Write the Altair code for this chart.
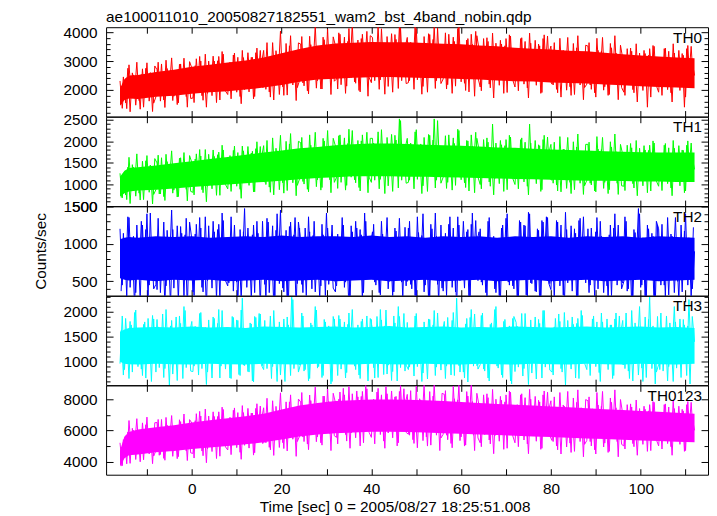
import altair as alt
import pandas as pd

FONT = "Liberation Sans"
FS = 15.4
TITLE = "ae100011010_20050827182551_wam2_bst_4band_nobin.qdp"
X_TITLE = "Time [sec] 0 = 2005/08/27 18:25:51.008"
Y_TITLE = "Counts/sec"
X_DOMAIN = [-19.1, 115.0]
X_TICKS = [-10, 0, 10, 20, 30, 40, 50, 60, 70, 80, 90, 100, 110]
X_LABELS = [0, 20, 40, 60, 80, 100]

# time grid of the dense core band (s)
T_CORE = [-16, -15, -14, -12, -8, -4, 0, 4, 8, 12, 16, 20, 24, 28, 32, 36, 40, 44,
          48, 52, 56, 60, 64, 68, 72, 76, 80, 84, 88, 92, 96, 100, 104, 108, 112]
# time grids of the two interleaved spike traces: every 0.5 s
T_SPIKE = [k / 2 for k in range(-32, 225)]          # -16.0 ... 112.0
T_SPIKE2 = [k / 2 + 0.25 for k in range(-32, 224)]  # -15.75 ... 111.75

TH0_LO = [1450, 1650, 1700, 1680, 1760, 1800, 1870, 1920, 1950, 2010, 2080, 2170, 2280, 2360, 2390, 2420, 2440, 2450,
          2430, 2410, 2400, 2380, 2360, 2330, 2300, 2290, 2260, 2240, 2220, 2190, 2160, 2130, 2100, 2080, 2060]
TH0_HI = [2050, 2380, 2500, 2520, 2620, 2700, 2800, 2870, 2950, 3020, 3120, 3270, 3420, 3540, 3610, 3640, 3660, 3650,
          3650, 3630, 3600, 3580, 3540, 3510, 3460, 3430, 3400, 3360, 3340, 3290, 3240, 3190, 3160, 3120, 3100]
TH0_SPK = [2310, 1360, 2300, 1350, 2870, 1820, 2520, 1470, 2310, 1330, 2730, 1750, 2940, 1610, 2380, 1540,
           1760, 2960, 1610, 2510, 1390, 2740, 2060, 3110, 1780, 2680, 1550, 2900, 2000, 2750, 1400, 2980,
           2760, 1560, 3080, 2120, 3000, 1640, 3240, 1880, 2680, 1800, 3000, 1560, 3160, 2280, 3240, 1960,
           1840, 2960, 2080, 3280, 1920, 2720, 1520, 3120, 2250, 3290, 2330, 3130, 1770, 3450, 2170, 2890,
           3370, 2020, 3100, 1750, 3640, 2290, 3190, 1840, 3070, 1810, 3610, 2350, 3880, 2170, 3160, 2080,
           2330, 3850, 2140, 3280, 1860, 3570, 2710, 4250, 2320, 3460, 2030, 3740, 2600, 3550, 1840, 3840,
           3530, 2030, 3930, 2730, 3830, 2130, 4130, 2430, 3330, 2230, 3730, 1930, 3930, 2830, 4030, 2430,
           2250, 3650, 2550, 4250, 2350, 3350, 1850, 3850, 2650, 3950, 2750, 3750, 2050, 4150, 2550, 3450,
           3820, 2320, 3520, 2020, 4120, 2620, 3620, 2120, 3320, 1920, 3920, 2520, 4220, 2320, 3420, 2220,
           2380, 3980, 2180, 3380, 1880, 3680, 2780, 4300, 2280, 3480, 1980, 3780, 2580, 3580, 1780, 3880,
           3400, 1970, 3780, 2640, 3680, 2070, 3970, 2350, 3210, 2160, 3590, 1880, 3780, 2730, 3870, 2350,
           2100, 3430, 2390, 3810, 2200, 3150, 1720, 3620, 2480, 3720, 2580, 3530, 1910, 3910, 2390, 3240,
           3520, 2170, 3250, 1900, 3790, 2440, 3340, 1990, 3070, 1810, 3610, 2350, 3880, 2170, 3160, 2080,
           2200, 3640, 2020, 3100, 1750, 3370, 2560, 3820, 2110, 3190, 1840, 3460, 2380, 3280, 1660, 3550,
           3090, 1810, 3430, 2410, 3340, 1900, 3600, 2150, 2920, 1980, 3260, 1400, 3430, 2490, 3510, 2150,
           1920, 3110, 2180, 3450, 2010, 2860, 1580, 3280, 2260, 3370, 2350, 3200, 1750, 3540, 2180, 2940,
           2500]
TH0_SPK2 = [1500, 2450, 1550, 2750, 1240, 2590, 1910, 2960, 1630, 2530, 1400, 2750, 1850, 2600, 1250, 2830,
            2700, 1800, 2900, 1650, 3030, 1980, 2680, 1630, 2470, 1490, 2890, 1910, 3100, 1770, 2540, 1700,
            1720, 2840, 1960, 3160, 1800, 2600, 1400, 3000, 2130, 3170, 2210, 3010, 1650, 3330, 2050, 2770,
            2890, 1690, 3210, 2250, 3130, 1770, 3370, 2010, 2810, 1930, 3130, 1690, 3290, 2410, 3370, 2090,
            2120, 3640, 1930, 3070, 1650, 3360, 2500, 4040, 2110, 3250, 1820, 3530, 2390, 3340, 1630, 3630,
            3590, 2240, 3320, 1970, 3860, 2510, 3410, 2060, 3290, 2030, 3830, 2570, 4100, 2390, 3380, 2300,
            2380, 3980, 2180, 3380, 1880, 3680, 2780, 4300, 2280, 3480, 1980, 3780, 2580, 3580, 1780, 3880,
            3820, 2320, 3520, 2020, 4120, 2620, 3620, 2120, 3320, 1920, 3920, 2520, 4220, 2320, 3420, 2220,
            2250, 3650, 2550, 4250, 2350, 3350, 1850, 3850, 2650, 3950, 2750, 3750, 2050, 4150, 2550, 3450,
            3530, 2030, 3930, 2730, 3830, 2130, 4130, 2430, 3330, 2230, 3730, 1930, 3930, 2830, 4030, 2430,
            2100, 3430, 2390, 3810, 2200, 3150, 1720, 3620, 2480, 3720, 2580, 3530, 1910, 3910, 2390, 3240,
            3400, 1970, 3780, 2640, 3680, 2070, 3970, 2350, 3210, 2160, 3590, 1880, 3780, 2730, 3870, 2350,
            2200, 3640, 2020, 3100, 1750, 3370, 2560, 3820, 2110, 3190, 1840, 3460, 2380, 3280, 1660, 3550,
            3520, 2170, 3250, 1900, 3790, 2440, 3340, 1990, 3070, 1810, 3610, 2350, 3880, 2170, 3160, 2080,
            1920, 3110, 2180, 3450, 2010, 2860, 1580, 3280, 2260, 3370, 2350, 3200, 1750, 3540, 2180, 2940,
            3090, 1810, 3430, 2410, 3340, 1900, 3600, 2150, 2920, 1980, 3260, 1400, 3430, 2490, 3510, 2150]

TH1_LO = [720, 800, 840, 860, 880, 910, 940, 970, 1000, 1030, 1060, 1090, 1120, 1150, 1170, 1190, 1190, 1190,
          1180, 1180, 1170, 1160, 1150, 1140, 1130, 1120, 1110, 1100, 1090, 1090, 1080, 1070, 1070, 1060, 1060]
TH1_HI = [1180, 1320, 1380, 1400, 1440, 1490, 1540, 1590, 1640, 1690, 1740, 1790, 1840, 1870, 1910, 1930, 1950, 1950,
          1940, 1920, 1910, 1900, 1880, 1860, 1850, 1830, 1810, 1800, 1790, 1770, 1760, 1750, 1740, 1740, 1740]
TH1_SPK = [1260, 690, 1290, 650, 1630, 950, 1400, 730, 1270, 640, 1540, 910, 1670, 820, 1310, 770,
           880, 1680, 780, 1380, 630, 1530, 1080, 1780, 870, 1470, 720, 1620, 1020, 1520, 620, 1670,
           1510, 760, 1710, 1110, 1660, 810, 1810, 960, 1450, 900, 1650, 750, 1750, 1200, 1800, 1000,
           900, 1670, 1070, 1890, 960, 1510, 680, 1780, 1160, 1880, 1220, 1770, 830, 1990, 1110, 1600,
           1900, 1000, 1720, 820, 2080, 1180, 1780, 880, 1640, 800, 2000, 1160, 2180, 1040, 1700, 980,
           1130, 2090, 1010, 1730, 830, 1910, 1370, 2210, 1110, 1830, 930, 2010, 1290, 1890, 810, 2070,
           1890, 910, 2150, 1370, 2080, 980, 2280, 1170, 1760, 1040, 2020, 850, 2150, 1430, 2210, 1170,
           1050, 1960, 1250, 2220, 1120, 1770, 790, 2090, 1310, 2160, 1380, 2030, 920, 2480, 1250, 1830,
           2070, 1100, 1880, 900, 2270, 1290, 1940, 970, 1750, 840, 2140, 1230, 2520, 1100, 1810, 1030,
           1170, 2130, 1050, 1770, 870, 1950, 1410, 2250, 1110, 1830, 930, 2010, 1290, 1890, 810, 2070,
           1800, 900, 2040, 1320, 1980, 960, 2400, 1140, 1680, 1020, 1920, 840, 2040, 1380, 2100, 1140,
           1000, 1840, 1180, 2080, 1060, 1660, 760, 1960, 1240, 2020, 1300, 1900, 880, 2140, 1180, 1720,
           1930, 1030, 1750, 850, 2110, 1210, 1810, 910, 1630, 790, 1990, 1150, 2170, 1030, 1690, 970,
           1100, 1980, 990, 1650, 830, 1820, 1320, 2090, 1050, 1710, 880, 1870, 1210, 1760, 770, 1930,
           1690, 860, 1910, 1250, 1850, 920, 2020, 1080, 1580, 970, 1800, 810, 1910, 1300, 1960, 1080,
           960, 1730, 1130, 1950, 1020, 1570, 740, 1840, 1180, 1900, 1240, 1790, 850, 2010, 1130, 1620,
           1350]
TH1_SPK2 = [700, 1250, 760, 1400, 560, 1460, 1010, 1710, 800, 1400, 650, 1550, 950, 1450, 550, 1600,
            1500, 780, 1620, 720, 1700, 1020, 1470, 800, 1340, 710, 1610, 980, 1740, 890, 1380, 840,
            820, 1590, 990, 1810, 880, 1430, 600, 1700, 1080, 1800, 1140, 1690, 750, 1910, 1030, 1520,
            1590, 840, 1790, 1190, 1740, 890, 1890, 1040, 1530, 980, 1730, 830, 1830, 1280, 1880, 1080,
            1060, 2020, 940, 1660, 760, 1840, 1300, 2140, 1040, 1760, 860, 1940, 1220, 1820, 740, 2000,
            1970, 1070, 1790, 890, 2150, 1250, 1850, 950, 1710, 870, 2070, 1230, 2250, 1110, 1770, 1050,
            1170, 2130, 1050, 1770, 870, 1950, 1410, 2250, 1110, 1830, 930, 2010, 1290, 1890, 810, 2070,
            2070, 1100, 1880, 900, 2270, 1290, 1940, 970, 1750, 840, 2140, 1230, 2520, 1100, 1810, 1030,
            1050, 1960, 1250, 2220, 1120, 1770, 790, 2090, 1310, 2160, 1380, 2030, 920, 2480, 1250, 1830,
            1890, 910, 2150, 1370, 2080, 980, 2280, 1170, 1760, 1040, 2020, 850, 2150, 1430, 2210, 1170,
            1000, 1840, 1180, 2080, 1060, 1660, 760, 1960, 1240, 2020, 1300, 1900, 880, 2140, 1180, 1720,
            1800, 900, 2040, 1320, 1980, 960, 2400, 1140, 1680, 1020, 1920, 840, 2040, 1380, 2100, 1140,
            1100, 1980, 990, 1650, 830, 1820, 1320, 2090, 1050, 1710, 880, 1870, 1210, 1760, 770, 1930,
            1930, 1030, 1750, 850, 2110, 1210, 1810, 910, 1630, 790, 1990, 1150, 2170, 1030, 1690, 970,
            960, 1730, 1130, 1950, 1020, 1570, 740, 1840, 1180, 1900, 1240, 1790, 850, 2010, 1130, 1620,
            1690, 860, 1910, 1250, 1850, 920, 2020, 1080, 1580, 970, 1800, 810, 1910, 1300, 1960, 1080]

TH2_LO = [540, 520, 510, 520, 500, 520, 510, 520, 500, 510, 520, 500, 510, 520, 500, 510, 520, 500,
          510, 520, 500, 510, 520, 500, 510, 520, 500, 510, 520, 500, 510, 520, 500, 510, 520]
TH2_HI = [1060, 1080, 1090, 1080, 1100, 1090, 1100, 1080, 1090, 1100, 1090, 1110, 1090, 1100, 1100, 1090, 1110, 1090,
          1100, 1080, 1100, 1090, 1100, 1080, 1100, 1090, 1100, 1080, 1100, 1090, 1100, 1080, 1100, 1090, 1080]
TH2_SPK = [1200, 450, 1050, 300, 1350, 600, 1100, 350, 950, 250, 1250, 550, 1400, 450, 1000, 400,
           460, 1340, 350, 1010, 190, 1180, 680, 1450, 410, 1070, 240, 1230, 570, 1120, 130, 1290,
           1060, 310, 1260, 660, 1210, 360, 1360, 510, 960, 410, 1160, 260, 1260, 710, 1310, 510,
           440, 1070, 580, 1250, 490, 940, 260, 1160, 620, 1210, 670, 1120, 350, 1300, 580, 980,
           1070, 250, 1290, 630, 1240, 300, 1400, 470, 960, 360, 1180, 190, 1290, 690, 1350, 470,
           1210, 460, 1060, 310, 1360, 610, 1110, 360, 960, 260, 1260, 560, 1410, 460, 1010, 410,
           360, 1130, 530, 1350, 420, 970, 140, 1240, 580, 1300, 640, 1190, 250, 1410, 530, 1020,
           540, 1260, 450, 990, 320, 1130, 720, 1350, 500, 1040, 360, 1170, 630, 1080, 270, 1220,
           500, 1300, 400, 1000, 250, 1150, 700, 1400, 450, 1050, 300, 1200, 600, 1100, 200, 1250,
           370, 1140, 530, 1360, 420, 970, 150, 1250, 590, 1300, 640, 1190, 260, 1410, 530, 1030,
           1160, 490, 1030, 350, 1300, 620, 1070, 400, 940, 310, 1210, 580, 1340, 490, 980, 440,
           1090, 260, 1310, 650, 1250, 320, 1420, 480, 980, 370, 1200, 210, 1310, 700, 1360, 480,
           390, 1090, 540, 1290, 440, 940, 190, 1190, 590, 1240, 640, 1140, 290, 1340, 540, 990,
           1030, 350, 1210, 670, 1160, 400, 1300, 530, 940, 440, 1120, 310, 1210, 710, 1250, 530,
           480, 1360, 370, 1030, 200, 1190, 700, 1470, 420, 1080, 260, 1250, 590, 1140, 150, 1300,
           1200, 450, 1050, 300, 1350, 600, 1100, 350, 950, 250, 1250, 550, 1400, 450, 1000, 400,
           900]
TH2_SPK2 = [370, 1140, 530, 1360, 420, 970, 150, 1250, 590, 1300, 640, 1190, 260, 1410, 530, 1030,
            390, 1090, 540, 1290, 440, 940, 190, 1190, 590, 1240, 640, 1140, 290, 1340, 540, 990,
            360, 1130, 530, 1350, 420, 970, 140, 1240, 580, 1300, 640, 1190, 250, 1410, 530, 1020,
            480, 1360, 370, 1030, 200, 1190, 700, 1470, 420, 1080, 260, 1250, 590, 1140, 150, 1300,
            460, 1340, 350, 1010, 190, 1180, 680, 1450, 410, 1070, 240, 1230, 570, 1120, 130, 1290,
            1030, 350, 1210, 670, 1160, 400, 1300, 530, 940, 440, 1120, 310, 1210, 710, 1250, 530,
            440, 1070, 580, 1250, 490, 940, 260, 1160, 620, 1210, 670, 1120, 350, 1300, 580, 980,
            1160, 490, 1030, 350, 1300, 620, 1070, 400, 940, 310, 1210, 580, 1340, 490, 980, 440,
            1210, 460, 1060, 310, 1360, 610, 1110, 360, 960, 260, 1260, 560, 1410, 460, 1010, 410,
            1060, 310, 1260, 660, 1210, 360, 1360, 510, 960, 410, 1160, 260, 1260, 710, 1310, 510,
            1200, 450, 1050, 300, 1350, 600, 1100, 350, 950, 250, 1250, 550, 1400, 450, 1000, 400,
            1070, 250, 1290, 630, 1240, 300, 1400, 470, 960, 360, 1180, 190, 1290, 690, 1350, 470,
            1090, 260, 1310, 650, 1250, 320, 1420, 480, 980, 370, 1200, 210, 1310, 700, 1360, 480,
            1200, 450, 1050, 300, 1350, 600, 1100, 350, 950, 250, 1250, 550, 1400, 450, 1000, 400,
            500, 1300, 400, 1000, 250, 1150, 700, 1400, 450, 1050, 300, 1200, 600, 1100, 200, 1250,
            540, 1260, 450, 990, 320, 1130, 720, 1350, 500, 1040, 360, 1170, 630, 1080, 270, 1220]

TH3_LO = [1000, 960, 950, 940, 960, 950, 940, 960, 950, 940, 960, 950, 940, 960, 950, 940, 960, 950,
          940, 960, 950, 940, 960, 950, 940, 960, 950, 940, 960, 950, 940, 960, 950, 940, 960]
TH3_HI = [1600, 1650, 1680, 1690, 1700, 1690, 1710, 1690, 1700, 1680, 1710, 1700, 1690, 1700, 1710, 1690, 1700, 1720,
          1690, 1700, 1710, 1690, 1700, 1690, 1710, 1700, 1690, 1700, 1710, 1690, 1700, 1710, 1690, 1700, 1680]
TH3_SPK = [960, 1920, 840, 1560, 660, 1740, 1200, 2040, 900, 1620, 720, 1800, 1080, 1680, 600, 1860,
           790, 1700, 990, 1960, 860, 1510, 530, 1830, 1050, 1900, 1120, 1770, 660, 2030, 990, 1570,
           1810, 910, 1630, 730, 1990, 1090, 1690, 790, 1510, 670, 1870, 1030, 2050, 910, 1570, 850,
           1650, 670, 1910, 1130, 1840, 740, 2040, 930, 1520, 800, 1780, 610, 1910, 1190, 1970, 930,
           840, 1680, 1020, 1920, 900, 1500, 600, 1800, 1080, 1860, 1140, 1740, 720, 2250, 1020, 1560,
           940, 1980, 810, 1590, 610, 1780, 1200, 2110, 870, 1650, 680, 1850, 1070, 1720, 550, 1910,
           1620, 720, 1860, 1140, 1800, 780, 1980, 960, 1500, 840, 1740, 660, 1860, 1200, 1920, 960,
           1850, 880, 1660, 680, 2050, 1070, 1720, 750, 1530, 620, 1920, 1010, 2110, 880, 1590, 810,
           1790, 890, 1610, 710, 1970, 1070, 1670, 770, 1490, 650, 1850, 1010, 2030, 890, 1550, 830,
           1630, 660, 1890, 1110, 1830, 720, 2280, 920, 1500, 790, 1760, 590, 1890, 1180, 1960, 920,
           970, 1930, 850, 1570, 670, 1750, 1210, 2050, 910, 1630, 730, 1810, 1090, 1690, 610, 1870,
           800, 1710, 990, 1970, 860, 1510, 540, 1840, 1060, 1900, 1120, 1770, 670, 2030, 990, 1580,
           1630, 730, 1870, 1150, 1810, 790, 1990, 970, 1510, 850, 1750, 670, 1870, 1210, 1930, 970,
           840, 1680, 1020, 1920, 900, 1500, 600, 1800, 1080, 1860, 1140, 1740, 720, 1980, 1020, 1560,
           1830, 860, 1640, 660, 2030, 1050, 1700, 730, 1510, 600, 1900, 990, 2300, 860, 1570, 790,
           940, 1980, 810, 1590, 610, 1780, 1200, 2110, 870, 1650, 680, 1850, 1070, 1720, 550, 1910,
           1400]
TH3_SPK2 = [1630, 730, 1870, 1150, 1810, 790, 1990, 970, 1510, 850, 1750, 670, 1870, 1210, 1930, 970,
            1850, 880, 1660, 680, 2050, 1070, 1720, 750, 1530, 620, 1920, 1010, 2110, 880, 1590, 810,
            800, 1710, 990, 1970, 860, 1510, 540, 1840, 1060, 1900, 1120, 1770, 670, 2030, 990, 1580,
            1630, 660, 1890, 1110, 1830, 720, 2280, 920, 1500, 790, 1760, 590, 1890, 1180, 1960, 920,
            1830, 860, 1640, 660, 2030, 1050, 1700, 730, 1510, 600, 1900, 990, 2300, 860, 1570, 790,
            960, 1920, 840, 1560, 660, 1740, 1200, 2040, 900, 1620, 720, 1800, 1080, 1680, 600, 1860,
            970, 1930, 850, 1570, 670, 1750, 1210, 2050, 910, 1630, 730, 1810, 1090, 1690, 610, 1870,
            1650, 670, 1910, 1130, 1840, 740, 2040, 930, 1520, 800, 1780, 610, 1910, 1190, 1970, 930,
            840, 1680, 1020, 1920, 900, 1500, 600, 1800, 1080, 1860, 1140, 1740, 720, 1980, 1020, 1560,
            1810, 910, 1630, 730, 1990, 1090, 1690, 790, 1510, 670, 1870, 1030, 2050, 910, 1570, 850,
            940, 1980, 810, 1590, 610, 1780, 1200, 2110, 870, 1650, 680, 1850, 1070, 1720, 550, 1910,
            1790, 890, 1610, 710, 1970, 1070, 1670, 770, 1490, 650, 1850, 1010, 2030, 890, 1550, 830,
            790, 1700, 990, 1960, 860, 1510, 530, 1830, 1050, 1900, 1120, 1770, 660, 2030, 990, 1570,
            1620, 720, 1860, 1140, 1800, 780, 1980, 960, 1500, 840, 1740, 660, 1860, 1200, 1920, 960,
            940, 1980, 810, 1590, 610, 1780, 1200, 2110, 870, 1650, 680, 1850, 1070, 1720, 550, 1910,
            840, 1680, 1020, 1920, 900, 1500, 600, 1800, 1080, 1860, 1140, 1740, 720, 2250, 1020, 1560]

TH0123_LO = [3700, 4200, 4400, 4450, 4600, 4680, 4800, 4900, 4990, 5100, 5230, 5420, 5610, 5740, 5820, 5860, 5910, 5910,
             5890, 5860, 5820, 5780, 5740, 5700, 5650, 5610, 5570, 5520, 5480, 5440, 5400, 5350, 5310, 5270, 5230]
TH0123_HI = [4700, 5600, 5900, 6050, 6200, 6320, 6500, 6650, 6770, 6900, 7070, 7340, 7590, 7760, 7880, 7940, 7990, 7990,
             7970, 7940, 7880, 7820, 7760, 7700, 7650, 7590, 7530, 7480, 7420, 7360, 7300, 7250, 7190, 7130, 7070]
TH0123_SPK = [5200, 3730, 5530, 3850, 6630, 4750, 6000, 4130, 5730, 3980, 6480, 4730, 6850, 4480, 5850, 4350,
              4700, 6700, 4450, 5950, 4080, 6330, 5200, 6950, 4690, 6190, 4310, 6560, 5060, 6310, 4060, 6690,
              6470, 4220, 7070, 5270, 6920, 4370, 7370, 4820, 6290, 4640, 6890, 4190, 7190, 5540, 7340, 4940,
              4740, 6840, 5190, 7440, 4890, 6390, 4140, 7140, 5460, 7410, 5610, 7110, 4560, 7710, 5310, 6660,
              7450, 5200, 7000, 4750, 7900, 5650, 7150, 4900, 6930, 4830, 7830, 5730, 8280, 5430, 7080, 5280,
              5630, 8430, 5280, 7380, 4760, 7910, 6330, 8780, 5580, 7680, 5050, 8200, 6100, 7850, 4700, 8380,
              7760, 5130, 8460, 6360, 8280, 5310, 8810, 5830, 7450, 5520, 8150, 5000, 8500, 6570, 8670, 5870,
              5550, 8000, 6080, 8700, 5730, 7480, 4850, 8350, 6250, 8530, 6430, 8180, 5200, 8880, 6080, 7650,
              8310, 5690, 7790, 5160, 8840, 6210, 7960, 5340, 7440, 4990, 8490, 6040, 9010, 5690, 7610, 5510,
              5750, 8550, 5400, 7500, 4880, 8030, 6450, 8900, 5580, 7680, 5050, 8200, 6100, 7850, 4700, 8380,
              7580, 4950, 8280, 6180, 8100, 5130, 8630, 5650, 7230, 5300, 7930, 4780, 8280, 6350, 8450, 5650,
              5200, 7650, 5730, 8350, 5380, 7130, 4500, 8000, 5900, 8180, 6080, 7830, 4850, 8530, 5730, 7300,
              7900, 5280, 7380, 4750, 8430, 5800, 7550, 4930, 7030, 4580, 8080, 5630, 8600, 5280, 7200, 5100,
              5350, 8150, 5000, 7100, 4480, 7630, 6050, 8500, 5180, 7280, 4650, 7800, 5700, 7450, 4300, 7980,
              7050, 4800, 7650, 5850, 7500, 4950, 7950, 5400, 6750, 5100, 7350, 4650, 7650, 6000, 7800, 5400,
              5000, 7100, 5450, 7700, 5150, 6650, 4400, 7400, 5600, 7550, 5750, 7250, 4700, 7850, 5450, 6800,
              6000]
TH0123_SPK2 = [3700, 5400, 4300, 5900, 3880, 6130, 5000, 6750, 4490, 5990, 4110, 6360, 4860, 6110, 3860, 6490,
               6500, 4400, 6700, 4200, 6830, 4950, 6200, 4330, 5930, 4180, 6680, 4930, 7050, 4680, 6050, 4550,
               4520, 6620, 4970, 7220, 4670, 6170, 3920, 6920, 5240, 7190, 5390, 6890, 4340, 7490, 5090, 6440,
               6690, 4440, 7290, 5490, 7140, 4590, 7590, 5040, 6510, 4860, 7110, 4410, 7410, 5760, 7560, 5160,
               5260, 8060, 4910, 7010, 4390, 7540, 5960, 8410, 5210, 7310, 4680, 7830, 5730, 7480, 4330, 8010,
               7820, 5570, 7370, 5120, 8270, 6020, 7520, 5270, 7300, 5200, 8200, 6100, 8650, 5800, 7450, 5650,
               5550, 8000, 6080, 8700, 5730, 7480, 4850, 8350, 6250, 8530, 6430, 8180, 5200, 8880, 6080, 7650,
               7760, 5130, 8460, 6360, 8280, 5310, 8810, 5830, 7450, 5520, 8150, 5000, 8500, 6570, 8670, 5870,
               5750, 8550, 5400, 7500, 4880, 8030, 6450, 8900, 5580, 7680, 5050, 8200, 6100, 7850, 4700, 8380,
               8310, 5690, 7790, 5160, 8840, 6210, 7960, 5340, 7440, 4990, 8490, 6040, 9010, 5690, 7610, 5510,
               5200, 7650, 5730, 8350, 5380, 7130, 4500, 8000, 5900, 8180, 6080, 7830, 4850, 8530, 5730, 7300,
               7580, 4950, 8280, 6180, 8100, 5130, 8630, 5650, 7230, 5300, 7930, 4780, 8280, 6350, 8450, 5650,
               5350, 8150, 5000, 7100, 4480, 7630, 6050, 8500, 5180, 7280, 4650, 7800, 5700, 7450, 4300, 7980,
               7900, 5280, 7380, 4750, 8430, 5800, 7550, 4930, 7030, 4580, 8080, 5630, 8600, 5280, 7200, 5100,
               5000, 7100, 5450, 7700, 5150, 6650, 4400, 7400, 5600, 7550, 5750, 7250, 4700, 7850, 5450, 6800,
               7050, 4800, 7650, 5850, 7500, 4950, 7950, 5400, 6750, 5100, 7350, 4650, 7650, 6000, 7800, 5400]

PANELS = [
    {"name": "TH0", "color": "#ff0000", "lo": TH0_LO, "hi": TH0_HI, "spk": TH0_SPK, "spk2": TH0_SPK2,
     "domain": [1075, 4175], "labels": [2000, 3000, 4000],
     "ticks": list(range(1200, 4001, 200)), "major": 1000},
    {"name": "TH1", "color": "#00ff00", "lo": TH1_LO, "hi": TH1_HI, "spk": TH1_SPK, "spk2": TH1_SPK2,
     "domain": [500, 2570], "labels": [500, 1000, 1500, 2000, 2500],
     "ticks": list(range(500, 2501, 100)), "major": 500},
    {"name": "TH2", "color": "#0000ff", "lo": TH2_LO, "hi": TH2_HI, "spk": TH2_SPK, "spk2": TH2_SPK2,
     "domain": [310, 1500], "labels": [500, 1000, 1500],
     "ticks": list(range(400, 1501, 100)), "major": 500},
    {"name": "TH3", "color": "#00ffff", "lo": TH3_LO, "hi": TH3_HI, "spk": TH3_SPK, "spk2": TH3_SPK2,
     "domain": [526, 2326], "labels": [1000, 1500, 2000],
     "ticks": list(range(600, 2301, 100)), "major": 500},
    {"name": "TH0123", "color": "#ff00ff", "lo": TH0123_LO, "hi": TH0123_HI, "spk": TH0123_SPK,
     "spk2": TH0123_SPK2, "domain": [3150, 8890], "labels": [4000, 6000, 8000],
     "ticks": list(range(4000, 8001, 1000)), "major": 2000},
]

W = 605
H = 89.8


def make_panel(i, p):
    core = pd.DataFrame({"t": T_CORE, "lo": p["lo"], "hi": p["hi"]})
    spk = pd.DataFrame({"t": T_SPIKE, "v": p["spk"]})
    spk2 = pd.DataFrame({"t": T_SPIKE2, "v": p["spk2"]})
    xs = alt.Scale(domain=X_DOMAIN, nice=False, zero=False)
    ys = alt.Scale(domain=p["domain"], nice=False, zero=False)
    last = i == len(PANELS) - 1
    test = "datum.value % " + str(p["major"]) + " === 0"
    tick_cond = {"condition": {"test": test, "value": 7}, "value": 4}

    if last:
        xa = alt.Axis(orient="bottom", values=X_LABELS, ticks=False, domain=False, grid=False, format="d",
                      labelPadding=6.5, labelFlush=False, title=X_TITLE, titlePadding=3, titleX=290)
    else:
        xa = None
    if i == 2:
        ya = alt.Axis(orient="left", values=p["labels"], ticks=False, domain=False, grid=False, format="d",
                      labelPadding=9, title=Y_TITLE, titlePadding=15)
    else:
        ya = alt.Axis(orient="left", values=p["labels"], ticks=False, domain=False, grid=False, format="d",
                      labelPadding=9, title=None)

    area = alt.Chart(core).mark_area(color=p["color"], clip=True).encode(
        x=alt.X("t:Q", scale=xs, axis=xa),
        y=alt.Y("lo:Q", scale=ys, axis=ya),
        y2="hi:Q",
    )
    line = alt.Chart(spk).mark_line(color=p["color"], strokeWidth=1, strokeJoin="round", clip=True).encode(
        x=alt.X("t:Q", scale=xs, axis=alt.Axis(orient="top", offset=-H, values=X_TICKS, labels=False,
                                               domain=False, grid=False, tickSize=6, title=None)),
        y=alt.Y("v:Q", scale=ys, axis=alt.Axis(orient="right", offset=-W, values=p["ticks"], labels=False,
                                               domain=False, grid=False, tickSize=tick_cond, title=None)),
    )
    line2 = alt.Chart(spk2).mark_line(color=p["color"], strokeWidth=1, strokeJoin="round", clip=True).encode(
        x=alt.X("t:Q", scale=xs, axis=None),
        y=alt.Y("v:Q", scale=ys, axis=None),
    )
    ghost = alt.Chart(core).mark_point(opacity=0).encode(
        x=alt.X("t:Q", scale=xs, axis=alt.Axis(orient="bottom", offset=-H, values=X_TICKS, labels=False,
                                               domain=False, grid=False, tickSize=6, title=None)),
        y=alt.Y("lo:Q", scale=ys, axis=alt.Axis(orient="left", offset=-W, values=p["ticks"], labels=False,
                                                domain=False, grid=False, tickSize=tick_cond, title=None)),
    )
    label = alt.Chart(pd.DataFrame({"name": [p["name"]]})).mark_text(
        align="right", baseline="alphabetic", font=FONT, fontSize=FS, color="black"
    ).encode(x=alt.value(W - 6), y=alt.value(15.5), text="name:N")

    ch = alt.layer(area, line, line2, ghost, label).resolve_axis(x="independent", y="independent").properties(
        width=W, height=H)
    if i == 0:
        ch = ch.properties(title=alt.TitleParams(text=TITLE, anchor="start", frame="group", font=FONT,
                                                 fontSize=FS, fontWeight="normal", color="black", offset=0))
    return ch


chart = alt.vconcat(*[make_panel(i, p) for i, p in enumerate(PANELS)], spacing=0, bounds="flush").properties(
    padding={"left": 24.6, "top": 0, "right": 0, "bottom": 0}
).configure_view(stroke="black", strokeWidth=1).configure_axis(
    labelFont=FONT, labelFontSize=FS, labelColor="black", titleFont=FONT, titleFontSize=FS,
    titleColor="black", titleFontWeight="normal", tickColor="black", tickWidth=1
)

chart.save("out.html", embed_options={"renderer": "svg", "actions": False})
